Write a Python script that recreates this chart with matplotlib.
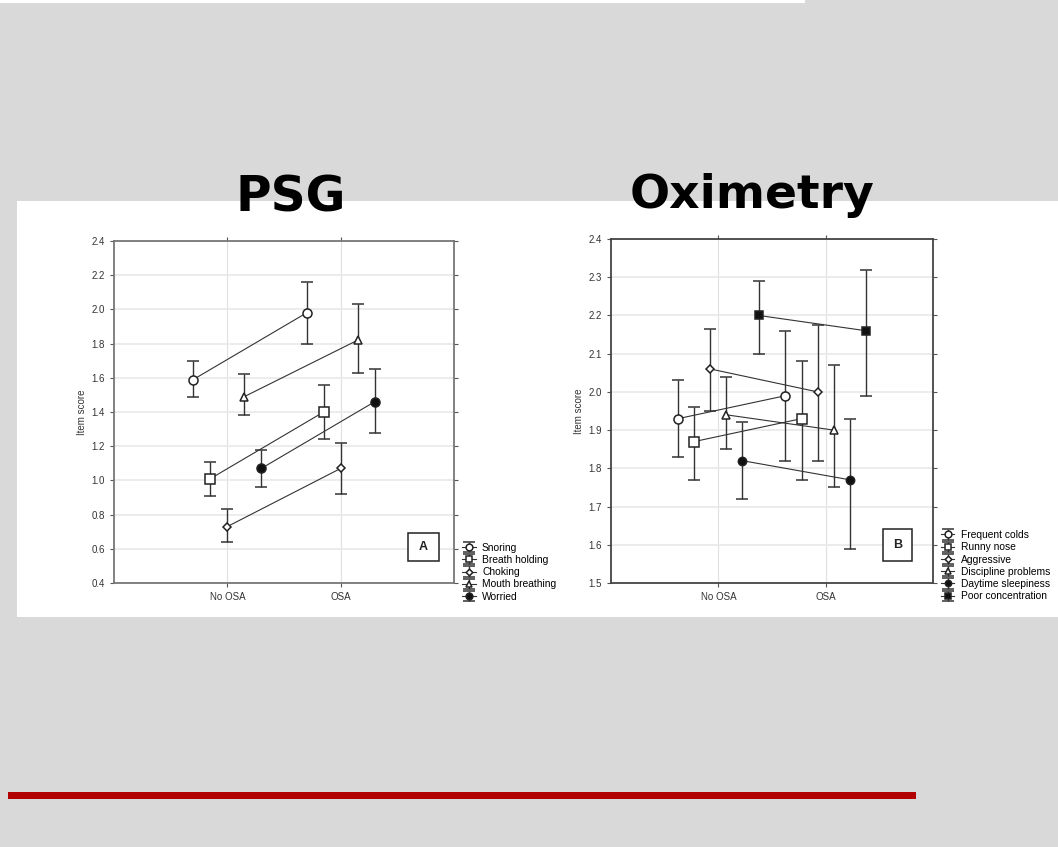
import matplotlib
matplotlib.use('Agg')
import matplotlib.pyplot as plt
from matplotlib.patches import Rectangle
import numpy as np

# Grupos no eixo x
grupos = ['No OSA', 'OSA']

# Painel A (PSG): média e limites do intervalo para cada item
itens_a = ['Snoring', 'Breath holding', 'Choking', 'Mouth breathing', 'Worried']
media_a = [[1.59, 1.98], [1.01, 1.40], [0.73, 1.07], [1.49, 1.82], [1.07, 1.46]]
inf_a = [[1.49, 1.80], [0.91, 1.24], [0.64, 0.92], [1.38, 1.63], [0.96, 1.28]]
sup_a = [[1.70, 2.16], [1.11, 1.56], [0.83, 1.22], [1.62, 2.03], [1.18, 1.65]]

# Painel B (Oximetria)
itens_b = ['Frequent colds', 'Runny nose', 'Aggressive', 'Discipline problems',
           'Daytime sleepiness', 'Poor concentration']
media_b = [[1.93, 1.99], [1.87, 1.93], [2.06, 2.00], [1.94, 1.90], [1.82, 1.77], [2.20, 2.16]]
inf_b = [[1.83, 1.82], [1.77, 1.77], [1.95, 1.82], [1.85, 1.75], [1.72, 1.59], [2.10, 1.99]]
sup_b = [[2.03, 2.16], [1.96, 2.08], [2.165, 2.175], [2.04, 2.07], [1.92, 1.93], [2.29, 2.32]]

# marcador, preenchimento, tamanho
estilo_a = [('o', 'white', 6.5), ('s', 'white', 6.5), ('D', 'white', 4.5),
            ('^', 'white', 6), ('o', '#111111', 6.5)]
estilo_b = [('o', 'white', 6.5), ('s', 'white', 6.5), ('D', 'white', 4.5),
            ('^', 'white', 6), ('o', '#111111', 6), ('s', '#111111', 6)]

plt.rcParams['font.family'] = ['Liberation Sans', 'DejaVu Sans']

W, H = 1058, 847
fig = plt.figure(figsize=(W / 100, H / 100), dpi=100)
fig.patch.set_facecolor('#d9d9d9')

def caixa(x0, y0, x1, y1, **kw):
    # retângulo em pixels (origem no topo), atrás dos eixos
    fig.patches.append(Rectangle((x0 / W, 1 - y1 / H), (x1 - x0) / W, (y1 - y0) / H,
                                 transform=fig.transFigure, zorder=-5, **kw))

caixa(0, 0, 805, 3, facecolor='white', edgecolor='none')
caixa(17, 201, 1058, 617, facecolor='white', edgecolor='none')
caixa(8, 792, 916, 799, facecolor='#b20000', edgecolor='none')

fig.text(291 / W, 1 - 212 / H, 'PSG', family='DejaVu Sans', weight='bold',
         fontsize=35, ha='center', va='baseline', color='black')
fig.text(752 / W, 1 - 208 / H, 'Oximetry', family='DejaVu Sans', weight='bold',
         fontsize=34, ha='center', va='baseline', color='black')


def painel(rect, itens, media, inf, sup, estilos, desloc, ylim, yticks, letra,
           cor_eixo, leg_y, caixa_rel):
    ax = fig.add_axes([rect[0] / W, 1 - rect[3] / H, (rect[2] - rect[0]) / W,
                       (rect[3] - rect[1]) / H])
    ax.set_facecolor('white')
    x = np.arange(len(grupos))
    for i, nome in enumerate(itens):
        m = np.array(media[i])
        erro = [m - np.array(inf[i]), np.array(sup[i]) - m]
        mk, fc, ms = estilos[i]
        ax.errorbar(x + desloc[i], m, yerr=erro, marker=mk, markersize=ms,
                    markerfacecolor=fc, markeredgecolor='#222222', markeredgewidth=1.1,
                    color='#333333', linewidth=0.8, elinewidth=1.0, ecolor='#333333',
                    capsize=4.5, capthick=1.0, label=nome, zorder=3)
    ax.set_xlim(-1, 2)
    ax.set_ylim(*ylim)
    ax.set_yticks(yticks)
    ax.set_yticklabels([f'{v:.1f}' for v in yticks])
    ax.set_xticks(x)
    ax.set_xticklabels(grupos, fontsize=7.5)
    ax.grid(axis='y', color='#e9e9e9', linewidth=1.2)
    ax.grid(axis='x', color='#e0e0e0', linewidth=0.8)
    ax.set_axisbelow(True)
    ax.tick_params(top=True, right=True, direction='out', length=3, width=0.8,
                   labelsize=7, colors='#555555', labelcolor='#333333')
    for s in ax.spines.values():
        s.set_color(cor_eixo)
        s.set_linewidth(1.3)
    ax.set_ylabel('Item score', fontsize=7, color='#333333', labelpad=3)
    bx, by, bw, bh = caixa_rel
    ax.add_patch(Rectangle((bx, by), bw, bh, transform=ax.transAxes,
                           facecolor='white', edgecolor='#222222', linewidth=1.1, zorder=4))
    ax.text(bx + bw / 2, by + bh / 2, letra, transform=ax.transAxes, ha='center',
            va='center', fontsize=9, weight='bold', color='#222222', zorder=5)
    ax.legend(loc='upper left', bbox_to_anchor=(1.025, leg_y), frameon=False,
              fontsize=7.4, markerscale=0.75, handlelength=1.3, handletextpad=0.6,
              labelspacing=0.22, borderaxespad=0, borderpad=0)
    return ax


painel((114, 241, 454, 583), itens_a, media_a, inf_a, sup_a, estilo_a,
       [-0.3, -0.15, 0.0, 0.15, 0.3], (0.4, 2.4), np.arange(0.4, 2.41, 0.2), 'A',
       '#777777', 0.118, (0.865, 0.064, 0.091, 0.082))

painel((611, 239, 933, 583), itens_b, media_b, inf_b, sup_b, estilo_b,
       [-0.375, -0.225, -0.075, 0.075, 0.225, 0.375], (1.5, 2.4),
       np.arange(1.5, 2.41, 0.1), 'B', '#444444', 0.154, (0.845, 0.064, 0.09, 0.093))

plt.savefig('out.png', dpi=100, facecolor=fig.get_facecolor())
